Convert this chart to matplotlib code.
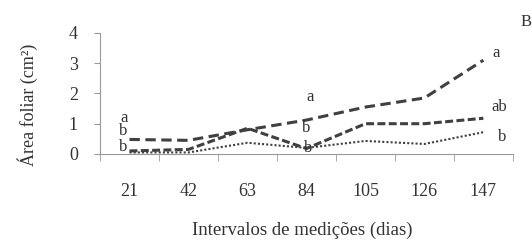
import numpy as np
import matplotlib
matplotlib.use("Agg")
from matplotlib import pyplot as plt

plt.rcParams['font.family'] = ['Liberation Serif', 'DejaVu Serif']

# measurement intervals (days)
dias = ["21", "42", "63", "84", "105", "126", "147"]
serie1 = [0.48, 0.45, 0.80, 1.12, 1.55, 1.85, 3.10]
serie2 = [0.10, 0.15, 0.85, 0.18, 1.00, 1.00, 1.18]
serie3 = [0.05, 0.05, 0.37, 0.20, 0.43, 0.33, 0.72]

# letters (x offset from category index, y, text)
letras_x = [-0.09, -0.11, -0.11, 3.07, 3.0, 3.03, 6.22, 6.27, 6.32]
letras_y = [1.19, 0.76, 0.23, 1.88, 0.86, 0.20, 3.33, 1.55, 0.56]
letras_t = ["a", "b", "b", "a", "b", "b", "a", "ab", "b"]

fig = plt.figure(figsize=(5.32, 2.44), dpi=100)
ax = fig.add_axes([0.188, 0.369, 0.776, 0.496])

x = np.arange(len(dias))
cor = "#404040"
ax.plot(x, serie1, color=cor, lw=2.2, dashes=(3.4, 1.8))
ax.plot(x, serie2, color=cor, lw=2.2, dashes=(2.6, 1.1))
ax.plot(x, serie3, color=cor, lw=1.5, dashes=(1, 1))

for i in range(len(letras_t)):
    ax.text(letras_x[i], letras_y[i], letras_t[i],
            fontsize=12, color="#333333", ha="center", va="center")

ax.text(6.72, 4.36, "B", fontsize=12, color="#333333",
        ha="center", va="center", clip_on=False)

ax.set_xlim(-0.5, 6.5)
ax.set_ylim(0, 4)
ax.set_yticks([0, 1, 2, 3, 4])
ax.set_xticks(x)
ax.set_xticklabels(dias)
ax.set_xticks(np.arange(-0.5, 7, 1), minor=True)
ax.tick_params(axis="x", which="major", length=0, pad=21, labelsize=13, colors="#333333")
ax.tick_params(axis="x", which="minor", length=5, color="#999999", direction="out")
ax.tick_params(axis="y", length=4, color="#999999", labelsize=13, labelcolor="#333333", pad=12)

for s in ["top", "right"]:
    ax.spines[s].set_visible(False)
for s in ["left", "bottom"]:
    ax.spines[s].set_color("#999999")

fig.text(28 / 532, 1 - 105 / 244, "Área foliar (cm²)", fontsize=13, color="#333333",
         rotation=90, ha="center", va="center")
ax.set_xlabel("Intervalos de medições (dias)", fontsize=13.5, color="#333333")
ax.xaxis.set_label_coords(0.49, -0.56)

fig.savefig("out.png", dpi=100)
